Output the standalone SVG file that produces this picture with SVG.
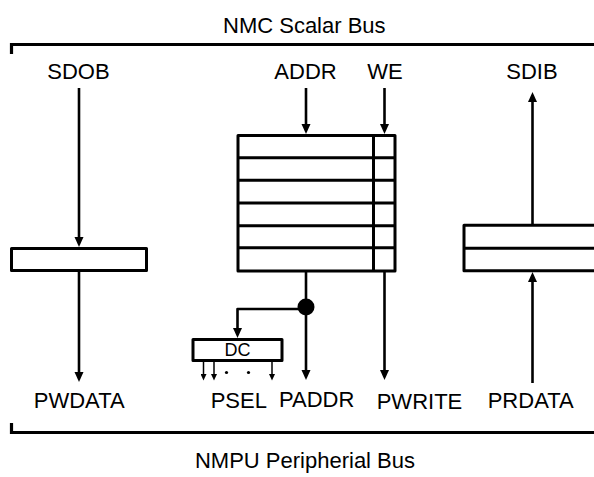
<svg xmlns="http://www.w3.org/2000/svg" width="594" height="477" viewBox="0 0 594 477">
<defs>
<style>
text{font-family:"Liberation Sans",Arial,sans-serif;font-size:22px;fill:#000}
.box{fill:#fff;stroke:#000;stroke-width:3;stroke-linejoin:round}
.ln{fill:none;stroke:#000;stroke-width:2.6}
.thin{fill:none;stroke:#000;stroke-width:1.5}
.bus{fill:none;stroke:#000;stroke-width:3.2}
</style>
<marker id="ah" markerUnits="userSpaceOnUse" markerWidth="11" markerHeight="10" refX="4" refY="5" orient="auto" viewBox="0 0 11 10">
<path d="M0,0.5 L10,5 L0,9.5 z" fill="#000"/>
</marker>
<marker id="sah" markerUnits="userSpaceOnUse" markerWidth="7" markerHeight="6" refX="2" refY="3" orient="auto" viewBox="0 0 7 6">
<path d="M0,0 L6.5,3 L0,6 z" fill="#000"/>
</marker>
</defs>

<g id="bus-top">
<path class="bus" d="M11.5,54 V44.5 H596"/>
<text x="223" y="33">NMC Scalar Bus</text>
</g>
<g id="bus-bottom">
<path class="bus" d="M11.5,423 V432.5 H596"/>
<text x="305" y="468" text-anchor="middle">NMPU Peripherial Bus</text>
</g>

<g id="labels">
<text x="78.5" y="79" text-anchor="middle">SDOB</text>
<text x="305.5" y="79" text-anchor="middle">ADDR</text>
<text x="385" y="79" text-anchor="middle">WE</text>
<text x="532" y="78.5" text-anchor="middle">SDIB</text>
<text x="79.2" y="407.5" text-anchor="middle">PWDATA</text>
<text x="210.7" y="407.5">PSEL</text>
<text x="279" y="407">PADDR</text>
<text x="376.7" y="408.5">PWRITE</text>
<text x="487.7" y="407.5">PRDATA</text>
</g>

<g id="connectors">
<line class="ln" x1="79" y1="88" x2="79" y2="241" marker-end="url(#ah)"/>
<line class="ln" x1="79" y1="271" x2="79" y2="376" marker-end="url(#ah)"/>
<line class="ln" x1="306" y1="88" x2="306" y2="128" marker-end="url(#ah)"/>
<line class="ln" x1="384.5" y1="88" x2="384.5" y2="128" marker-end="url(#ah)"/>
<line class="ln" x1="306" y1="271" x2="306" y2="374" marker-end="url(#ah)"/>
<line class="ln" x1="384.5" y1="271" x2="384.5" y2="374" marker-end="url(#ah)"/>
<path class="ln" d="M306,309 H237.5 V332" stroke-linejoin="round" marker-end="url(#ah)"/>
<circle cx="306" cy="307" r="8.5" fill="#000"/>
<line class="thin" x1="203.5" y1="361" x2="203.5" y2="376" marker-end="url(#sah)"/>
<line class="thin" x1="214" y1="361" x2="214" y2="376" marker-end="url(#sah)"/>
<line class="thin" x1="272" y1="361" x2="272" y2="376" marker-end="url(#sah)"/>
<circle cx="226.5" cy="372.5" r="1.6" fill="#000"/>
<circle cx="248.5" cy="372.5" r="1.6" fill="#000"/>
<line class="ln" x1="532.5" y1="225" x2="532.5" y2="98" marker-end="url(#ah)"/>
<line class="ln" x1="532.5" y1="383" x2="532.5" y2="278" marker-end="url(#ah)"/>
</g>

<g id="register">
<rect class="box" x="238" y="135.5" width="157" height="135.5"/>
<path class="box" d="M238,157.7 H395 M238,180.3 H395 M238,203 H395 M238,225.7 H395 M238,247.7 H395 M373.5,135.5 V271"/>
</g>

<g id="sdob-buffer">
<rect class="box" x="11.5" y="248.5" width="135" height="22"/>
</g>

<g id="sdib-buffer">
<path class="box" d="M598,225.3 H464 V270.7 H598"/>
<path class="box" d="M464,248.3 H598"/>
</g>

<g id="dc">
<rect class="box" x="193" y="339.5" width="89" height="21"/>
<text x="237.5" y="356" text-anchor="middle" style="font-size:18px">DC</text>
</g>
</svg>
